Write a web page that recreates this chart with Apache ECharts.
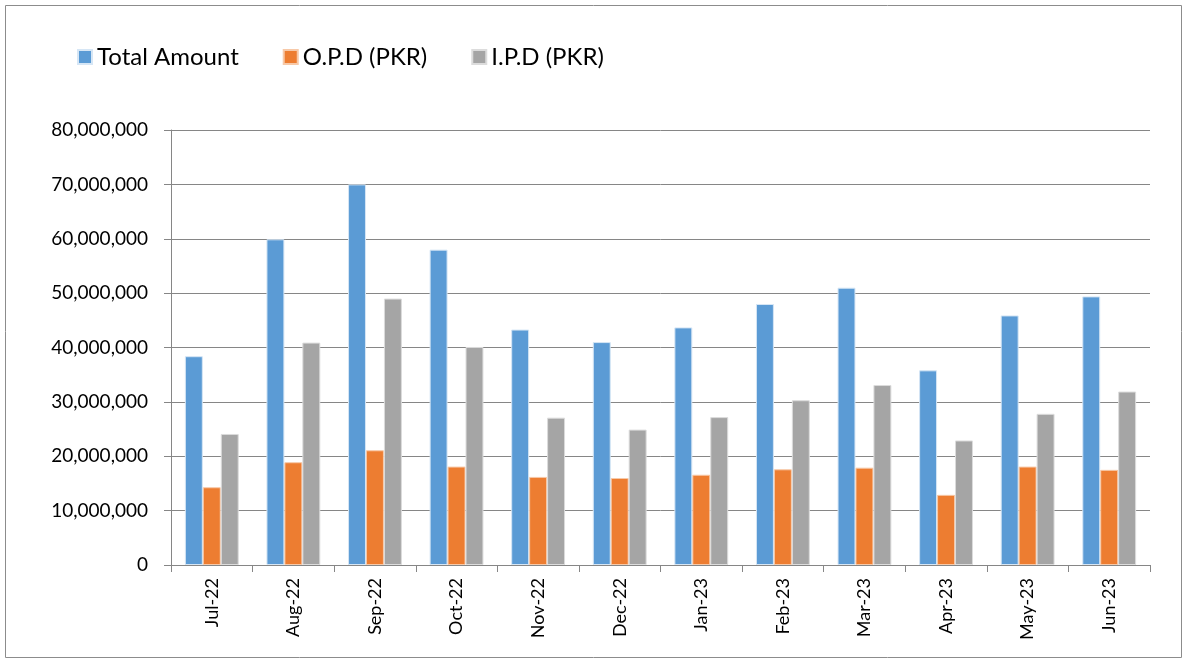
<!DOCTYPE html>
<html>
<head>
<meta charset="utf-8">
<script src="https://cdn.jsdelivr.net/npm/echarts@6/dist/echarts.min.js"></script>
<style>
  html, body { margin: 0; padding: 0; background: #fff; }
  #chart { width: 1186px; height: 660px; }
</style>
</head>
<body>
<div id="chart"></div>
<script>
// months on the x axis
var months = ["Jul-22", "Aug-22", "Sep-22", "Oct-22", "Nov-22", "Dec-22",
              "Jan-23", "Feb-23", "Mar-23", "Apr-23", "May-23", "Jun-23"];

// values (PKR)
var totalAmount = [38400000, 59900000, 70000000, 58000000, 43300000, 41000000,
                   43700000, 48000000, 51000000, 35800000, 45900000, 49400000];
var opd = [14300000, 18900000, 21100000, 18100000, 16200000, 16000000,
           16600000, 17600000, 17900000, 12900000, 18100000, 17500000];
var ipd = [24100000, 40900000, 49000000, 40100000, 27100000, 24900000,
           27200000, 30300000, 33100000, 22900000, 27800000, 31900000];

var seriesNames = ["Total Amount", "O.P.D (PKR)", "I.P.D (PKR)"];
var colors = ["#5B9BD5", "#ED7D31", "#A5A5A5"];

var font = "Lato, 'Liberation Sans', sans-serif";
var myChart = echarts.init(document.getElementById("chart"));

function fmt(v) {
  return v === 0 ? "0" : v.toLocaleString("en-US");
}

var option = {
  animation: false,
  color: colors,
  textStyle: { fontFamily: font },
  graphic: [{
    type: "rect",
    shape: { x: 5.5, y: 5.5, width: 1176, height: 652 },
    style: { fill: "none", stroke: "#8c8c8c", lineWidth: 1 },
    silent: true
  }],
  legend: {
    left: 72,
    top: 40,
    itemWidth: 14,
    itemHeight: 14,
    itemGap: 44,
    icon: "rect",
    textStyle: { fontSize: 24, color: "#000", fontFamily: font },
    data: seriesNames
  },
  grid: {
    left: 171,
    right: 36,
    top: 130,
    bottom: 95
  },
  xAxis: {
    type: "category",
    data: months,
    axisLine: { lineStyle: { color: "#868686", width: 1 } },
    axisTick: { show: true, length: 7, lineStyle: { color: "#868686" } },
    axisLabel: {
      rotate: 90,
      color: "#000",
      fontSize: 18,
      margin: 13,
      interval: 0,
      fontFamily: font
    }
  },
  yAxis: {
    type: "value",
    min: 0,
    max: 80000000,
    interval: 10000000,
    axisLine: { show: true, lineStyle: { color: "#868686" } },
    axisTick: { show: true, inside: false, length: 7, lineStyle: { color: "#868686" } },
    splitLine: { lineStyle: { color: "#868686", width: 1 } },
    axisLabel: {
      color: "#000",
      fontSize: 19,
      margin: 23,
      fontFamily: font,
      formatter: fmt
    }
  },
  series: [
    {
      name: seriesNames[0],
      type: "bar",
      data: totalAmount,
      barGap: "0%",
      barCategoryGap: "34%",
      itemStyle: { borderColor: "#d6e6f5", borderWidth: 1 }
    },
    {
      name: seriesNames[1],
      type: "bar",
      data: opd,
      barGap: "0%",
      barCategoryGap: "34%",
      itemStyle: { borderColor: "#f7c9a8", borderWidth: 1 }
    },
    {
      name: seriesNames[2],
      type: "bar",
      data: ipd,
      barGap: "0%",
      barCategoryGap: "34%",
      itemStyle: { borderColor: "#dcdcdc", borderWidth: 1 }
    }
  ]
};

myChart.setOption(option);
window.addEventListener("resize", function () {
  myChart.resize();
});
</script>
</body>
</html>
